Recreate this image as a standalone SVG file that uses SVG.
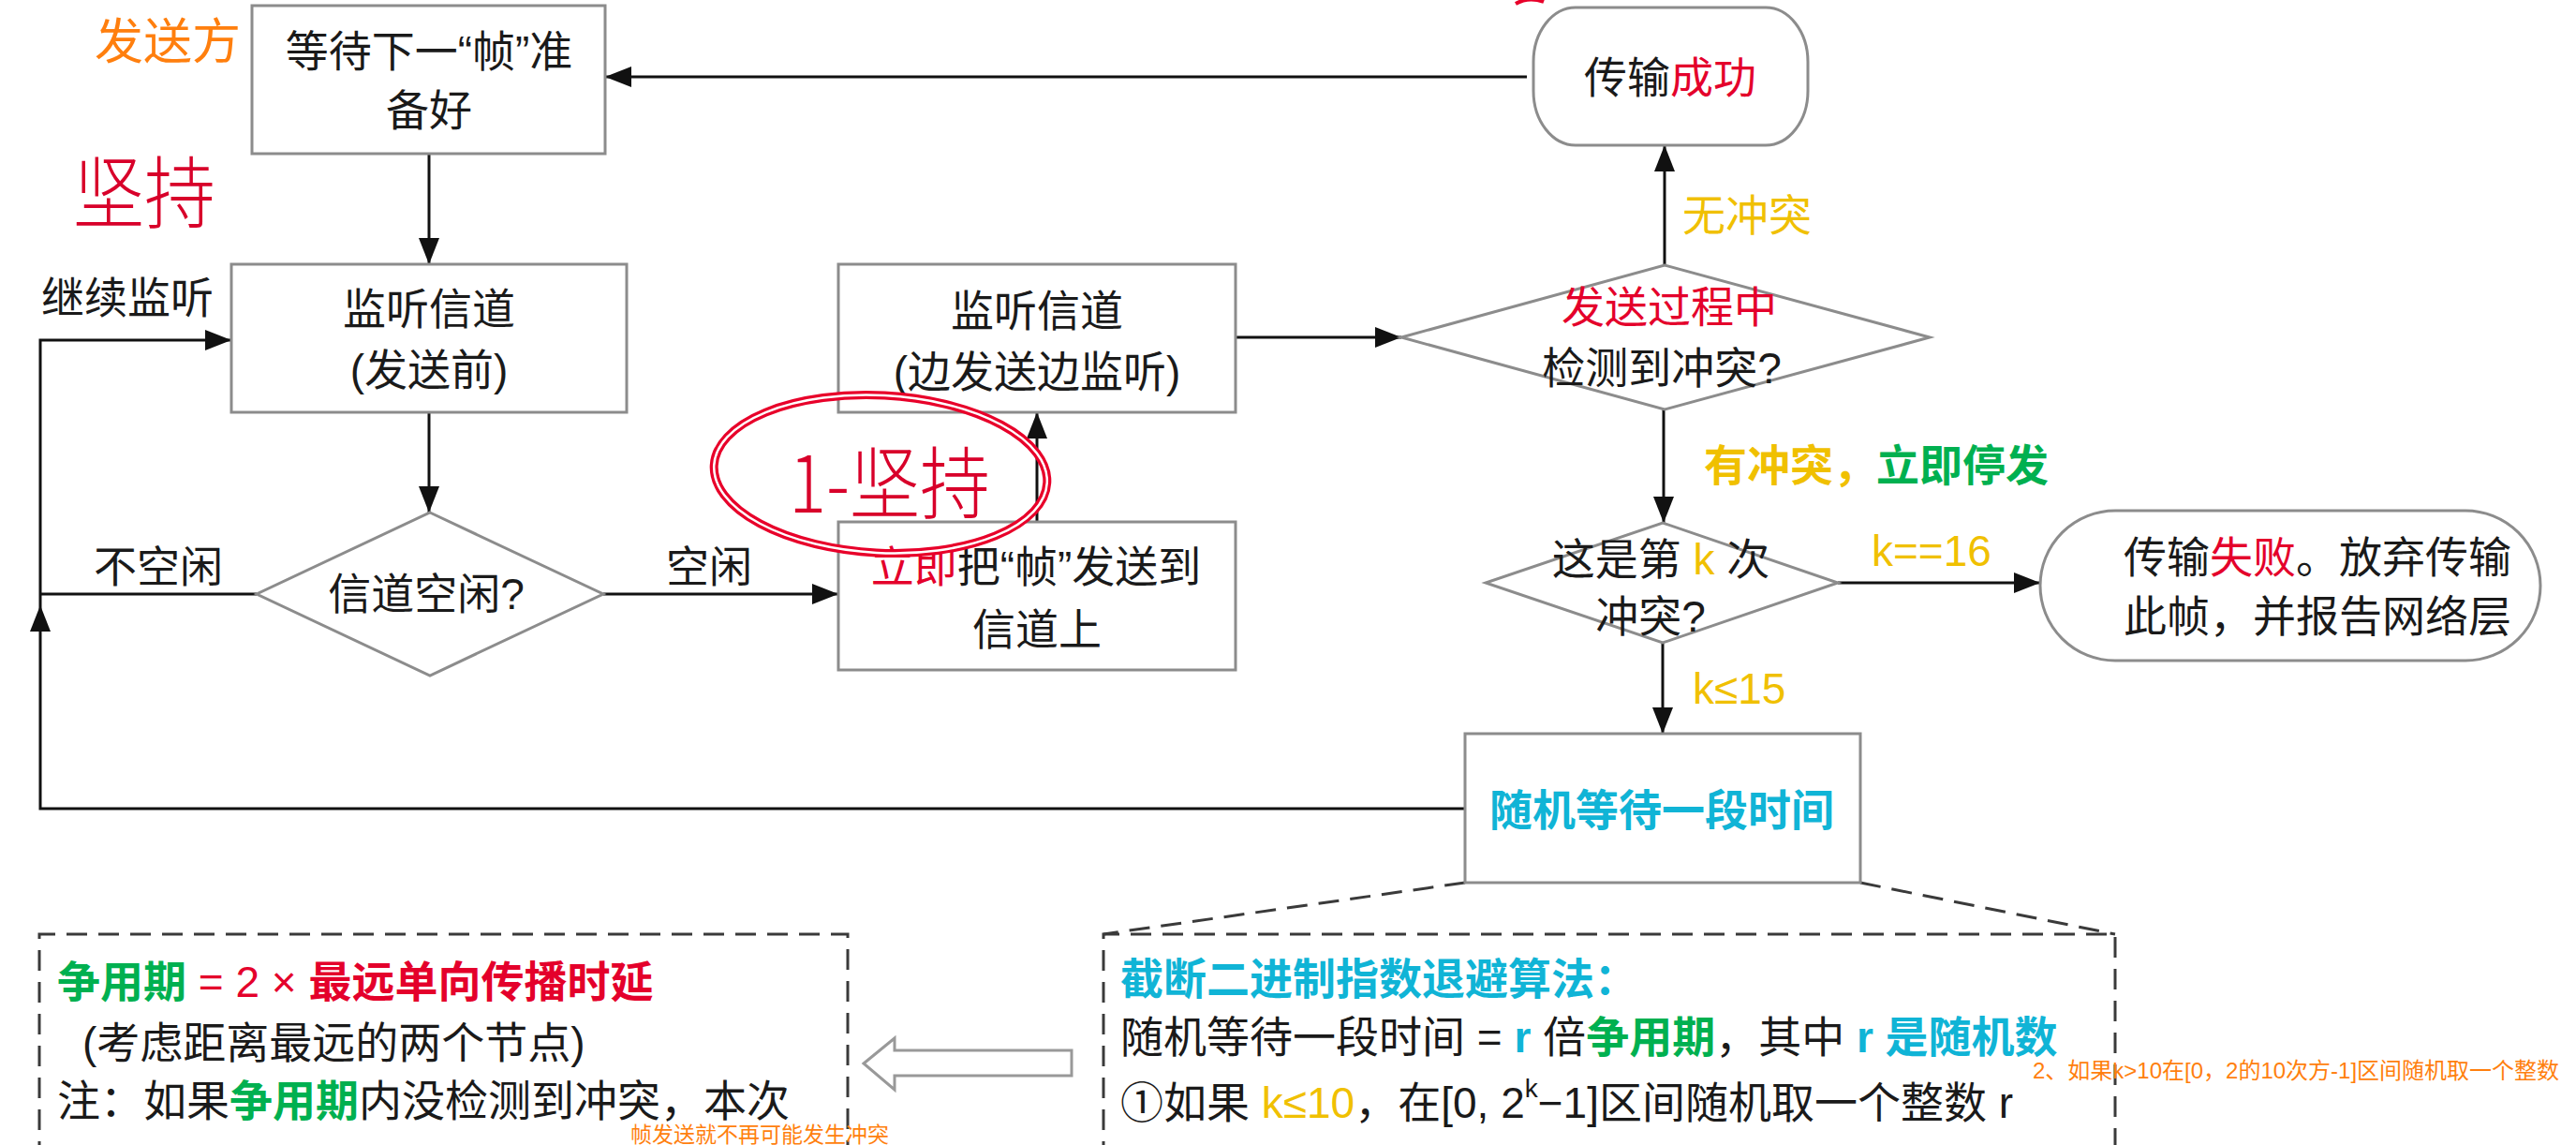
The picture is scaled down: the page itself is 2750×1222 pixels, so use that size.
<svg xmlns="http://www.w3.org/2000/svg" width="2750" height="1222" viewBox="0 0 2750 1222">
<defs>
<style>
text{font-family:"Liberation Sans","Noto Sans CJK SC",sans-serif;dominant-baseline:central;}
.t{font-size:46px;fill:#1a1a1a;}
.c{text-anchor:middle;}
.box{fill:#fff;stroke:#8c8c8c;stroke-width:3;}
.conn{fill:none;stroke:#111;stroke-width:3;}
.dash{fill:none;stroke:#3a3a3a;stroke-width:3;stroke-dasharray:22 12;}
.red{fill:#E4002B;}
.yel{fill:#F0C000;}
.grn{fill:#00B050;}
.cyn{fill:#10B4D6;}
.org{fill:#FF7F0E;}
.b{font-weight:700;}
.hand{fill:#D8002A;font-family:"Noto Sans CJK SC",sans-serif;font-weight:300;}
</style>
<marker id="ah" markerUnits="userSpaceOnUse" markerWidth="28" markerHeight="22" refX="28" refY="11" orient="auto">
<path d="M0,0 L28,11 L0,22 z" fill="#111"/>
</marker>
</defs>
<rect width="2750" height="1222" fill="#fff"/>

<g id="connectors">
<path class="conn" d="M1630,82 H646" marker-end="url(#ah)"/>
<path class="conn" d="M458,164 V282" marker-end="url(#ah)"/>
<path class="conn" d="M458,440 V547" marker-end="url(#ah)"/>
<path class="conn" d="M644,634 H895" marker-end="url(#ah)"/>
<path class="conn" d="M274,634 H43"/>
<path class="conn" d="M1564,863 H43 V646" marker-end="url(#ah)"/>
<path class="conn" d="M43,646 V363 H247" marker-end="url(#ah)"/>
<path class="conn" d="M1107,557 V440" marker-end="url(#ah)"/>
<path class="conn" d="M1319,360 H1496" marker-end="url(#ah)"/>
<path class="conn" d="M1777,283 V155" marker-end="url(#ah)"/>
<path class="conn" d="M1776,437 V558" marker-end="url(#ah)"/>
<path class="conn" d="M1962,622 H2178" marker-end="url(#ah)"/>
<path class="conn" d="M1775,686 V783" marker-end="url(#ah)"/>
<path class="dash" d="M1564,942 L1178,997"/>
<path class="dash" d="M1986,942 L2258,997"/>
</g>

<g id="label-sender"><text class="org" x="179" y="45" font-size="52" text-anchor="middle">发送方</text></g>

<g id="node-wait-frame">
<rect class="box" x="269" y="6" width="377" height="158"/>
<text class="t c" x="458" y="55">等待下一“帧”准</text>
<text class="t c" x="458" y="118">备好</text>
</g>

<g id="node-listen-before">
<rect class="box" x="247" y="282" width="422" height="158"/>
<text class="t c" x="458" y="330">监听信道</text>
<text class="t c" x="458" y="395">(发送前)</text>
</g>

<g id="node-idle">
<polygon class="box" points="459,547 644,634 459,721 274,634"/>
<text class="t c" x="455" y="634">信道空闲?</text>
</g>

<g id="node-send-now">
<rect class="box" x="895" y="557" width="424" height="158"/>
<text class="t c" x="1106" y="605"><tspan class="red">立即</tspan>把“帧”发送到</text>
<text class="t c" x="1107" y="672">信道上</text>
</g>

<g id="node-listen-while">
<rect class="box" x="895" y="282" width="424" height="158"/>
<text class="t c" x="1107" y="332">监听信道</text>
<text class="t c" x="1107" y="397">(边发送边监听)</text>
</g>

<g id="node-collision">
<polygon class="box" points="1777,283 2060,360 1777,437 1496,360"/>
<text class="t c red" x="1782" y="328">发送过程中</text>
<text class="t c" x="1774" y="393">检测到冲突?</text>
</g>

<g id="node-success">
<rect class="box" x="1637" y="8" width="293" height="147" rx="45" ry="58"/>
<text class="t c" x="1783" y="83">传输<tspan class="red">成功</tspan></text>
</g>

<g id="node-kth">
<polygon class="box" points="1775,558 1962,622 1775,686 1586,622"/>
<text class="t c" x="1773" y="597">这是第 <tspan class="yel">k</tspan> 次</text>
<text class="t c" x="1762" y="658">冲突?</text>
</g>

<g id="node-fail">
<rect class="box" x="2178" y="545" width="534" height="160" rx="80" ry="80"/>
<text class="t c" x="2474" y="595">传输<tspan class="red">失败</tspan>。放弃传输</text>
<text class="t c" x="2474" y="658">此帧，并报告网络层</text>
</g>

<g id="node-backoff">
<rect class="box" x="1564" y="783" width="422" height="159"/>
<text class="t c cyn b" x="1774" y="865">随机等待一段时间</text>
</g>

<g id="labels">
<text class="t c" x="136" y="318">继续监听</text>
<text class="t c" x="169" y="605">不空闲</text>
<text class="t c" x="757" y="605">空闲</text>
<text class="t yel" x="1796" y="230">无冲突</text>
<text class="t b" x="1819" y="497"><tspan class="yel">有冲突，</tspan><tspan class="grn">立即停发</tspan></text>
<text class="t yel" x="1998" y="588">k==16</text>
<text class="t yel" x="1807" y="735">k≤15</text>
</g>

<g id="node-contention">
<path class="dash" d="M42,1240 V997 H905 V1240"/>
<text class="t" x="61" y="1048"><tspan class="grn b">争用期</tspan><tspan class="red"> = 2 × </tspan><tspan class="red b">最远单向传播时延</tspan></text>
<text class="t" x="88" y="1113">(考虑距离最远的两个节点)</text>
<text class="t" x="61" y="1175">注：如果<tspan class="grn b">争用期</tspan>内没检测到冲突，本次</text>
</g>

<g id="hollow-arrow">
<polygon points="922,1135 955,1108 955,1121 1144,1121 1144,1148 955,1148 955,1163" fill="#fff" stroke="#999" stroke-width="3"/>
</g>

<g id="node-algorithm">
<path class="dash" d="M1178,1240 V997 H2258 V1240"/>
<text class="t cyn b" x="1196" y="1045">截断二进制指数退避算法：</text>
<text class="t" x="1196" y="1107">随机等待一段时间 = <tspan class="cyn b">r</tspan> 倍<tspan class="grn b">争用期</tspan>，其中 <tspan class="cyn b">r 是随机数</tspan></text>
<text class="t" x="1196" y="1177">①如果 <tspan class="yel">k≤10</tspan>，在[0, 2<tspan font-size="28" dy="-16">k</tspan><tspan dy="16">−1]区间随机取一个整数 r</tspan></text>
</g>

<g id="notes">
<text class="org" x="2170" y="1142" font-size="24">2、如果k&gt;10在[0，2的10次方-1]区间随机取一个整数</text>
<text class="org" x="673" y="1211" font-size="23">帧发送就不再可能发生冲突</text>
</g>

<g id="handwriting">
<text class="hand" x="78" y="200" font-size="84" textLength="152" lengthAdjust="spacingAndGlyphs">坚持</text>
<ellipse cx="940" cy="506" rx="178" ry="84" transform="rotate(3 940 506)" fill="none" stroke="#E8002A" stroke-width="9"/>
<ellipse cx="940" cy="506" rx="178" ry="84" transform="rotate(3 940 506)" fill="none" stroke="#fff" stroke-width="2.5"/>
<text class="hand" x="842" y="510" font-size="84" textLength="215" lengthAdjust="spacingAndGlyphs">1-坚持</text>
<path d="M1618,4 Q1632,-4 1648,2" fill="none" stroke="#E8002A" stroke-width="4"/>
</g>
</svg>
